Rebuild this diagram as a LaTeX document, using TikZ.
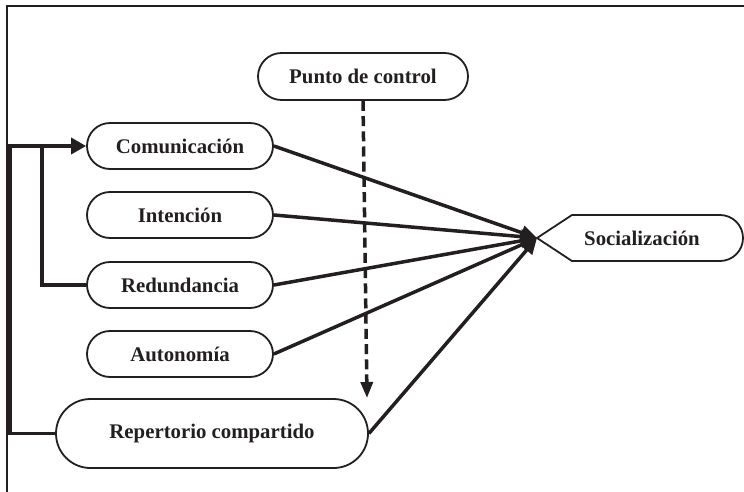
\documentclass[tikz,border=0pt]{standalone}
\usepackage{fontspec}
\setmainfont{Liberation Serif}
\usetikzlibrary{arrows.meta,shapes.misc}
\definecolor{ink}{HTML}{231F20}
\begin{document}
\begin{tikzpicture}[x=0.5pt,y=-0.5pt,
 lbl/.style={font=\fontsize{10.4}{12}\selectfont\bfseries,text=ink,inner sep=0pt},
 oval/.style={lbl,shape=rounded rectangle,rounded rectangle arc length=180,draw=ink,line width=0.9pt,minimum width=93pt,minimum height=23pt},
 conn/.style={draw=ink,line width=1.75pt},
 tipa/.style={-{Triangle[length=8pt,width=7pt]}},
 tipb/.style={-{Triangle[length=7.5pt,width=8pt]}}
]
\useasboundingbox (0,0) rectangle (744,492);
\draw[ink,line width=1pt] (7,492) -- (7,6) -- (744,6);
\node[oval,minimum width=105pt,minimum height=23.5pt] (pc) at (363,76.5) {Punto de control};
\node[oval] (com) at (180,146) {Comunicación};
\node[oval] (int) at (180,215) {Intención};
\node[oval] (red) at (180,285) {Redundancia};
\node[oval] (aut) at (180,354) {Autonomía};
\node[oval,minimum width=156pt,minimum height=34.5pt] (rep) at (212,433.5) {Repertorio compartido};
\node[lbl] (soc) at (642,238) {Socialización};
\coordinate (socl) at (537,238);
\draw[ink,line width=0.9pt] (socl) -- (572,215) -- (720,215) arc[start angle=90,end angle=-90,radius=11.5pt] -- (572,261) -- cycle;
\coordinate (fbo) at (10,146);
\coordinate (fbi) at (42,146);
\coordinate (dend) at (367,398);
\foreach \n in {com,int,red,aut,rep} \draw[conn,tipa] (\n.east) -- (socl);
\draw[conn,tipb] (rep.west) -| (fbo) -- (com.west);
\draw[conn] (red.west) -| (fbi);
\draw[conn,dash pattern=on 5pt off 2.6pt,-{Triangle[length=8pt,width=6pt]}] (pc.south) -- (dend);
\end{tikzpicture}
\end{document}
